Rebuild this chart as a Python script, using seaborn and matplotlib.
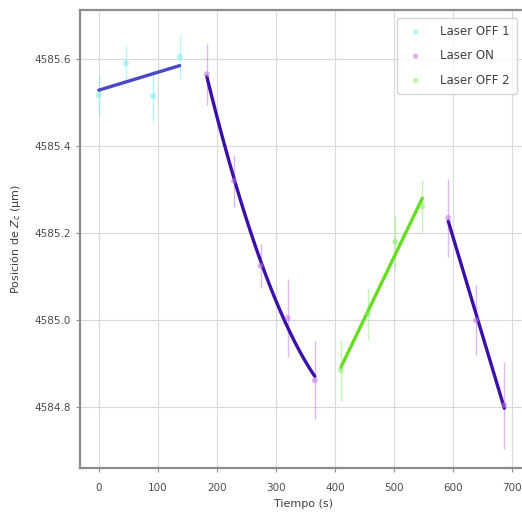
import numpy as np
import pandas as pd
import seaborn as sns
import matplotlib
matplotlib.use("Agg")
import matplotlib.pyplot as plt

# Measured focal position Z_c (um) vs time, three phases of the run
t_off1 = [0, 46, 92, 137]
z_off1 = [4585.517, 4585.590, 4585.515, 4585.605]
e_off1 = [0.045, 0.040, 0.060, 0.050]

t_on1 = [183, 229, 274, 320, 366]
z_on1 = [4585.565, 4585.320, 4585.125, 4585.005, 4584.862]
e_on1 = [0.070, 0.060, 0.050, 0.090, 0.090]

t_off2 = [410, 456, 502, 548]
z_off2 = [4584.885, 4585.015, 4585.180, 4585.262]
e_off2 = [0.070, 0.060, 0.060, 0.060]

t_on2 = [592, 639, 687]
z_on2 = [4585.235, 4585.000, 4584.805]
e_on2 = [0.090, 0.080, 0.100]

labels = ["Laser OFF 1", "Laser ON", "Laser OFF 2"]

sns.set_style("whitegrid", {"axes.edgecolor": "0.55", "grid.color": "0.85",
                            "xtick.bottom": True, "ytick.left": True})

fig = plt.figure(figsize=(5.22, 5.19), dpi=100)
ax = fig.add_axes([0.153, 0.098, 0.855, 0.883])

phases = [
    (t_off1, z_off1, e_off1, "#6ff0f0", "#4848c8", 1, labels[0]),
    (t_on1, z_on1, e_on1, "#c070e8", "#3a10a8", 2, labels[1]),
    (t_off2, z_off2, e_off2, "#88ee66", "#66dd22", 1, labels[2]),
    (t_on2, z_on2, e_on2, "#c070e8", "#3a10a8", 1, None),
]

for t, z, e, mcol, lcol, order, lab in phases:
    df = pd.DataFrame({"t": t, "z": z})
    ax.errorbar(t, z, yerr=e, fmt="none", ecolor=mcol, elinewidth=1.0, alpha=0.5)
    sns.scatterplot(data=df, x="t", y="z", color=mcol, s=18, alpha=0.55,
                    edgecolor="none", label=lab, ax=ax, zorder=3)
    sns.regplot(data=df, x="t", y="z", order=order, ci=None, scatter=False,
                truncate=True, line_kws={"color": lcol, "lw": 2.4}, ax=ax)

ax.set_xlim(-32, 724)
ax.set_ylim(4584.66, 4585.713)
ax.set_xticks([0, 100, 200, 300, 400, 500, 600, 700])
ax.set_yticks([4584.8, 4585.0, 4585.2, 4585.4, 4585.6])
ax.yaxis.set_major_formatter(matplotlib.ticker.FormatStrFormatter("%.1f"))
ax.tick_params(labelsize=7.5, colors="0.3", length=3, color="0.55")
ax.tick_params(axis="x", pad=8)
for s in ax.spines.values():
    s.set_linewidth(1.6)

ax.set_xlabel("Tiempo (s)", fontsize=8, color="0.25", labelpad=4)
ax.set_ylabel("Posición de $Z_c$ (μm)", fontsize=8, color="0.25", labelpad=8)

leg = ax.legend(loc="upper right", fontsize=8.5, frameon=True, markerscale=0.9,
                labelspacing=0.95, handletextpad=1.1, borderpad=0.6,
                bbox_to_anchor=(0.993, 0.995))
for txt in leg.get_texts():
    txt.set_color("0.25")

fig.savefig("out.png", dpi=100)
